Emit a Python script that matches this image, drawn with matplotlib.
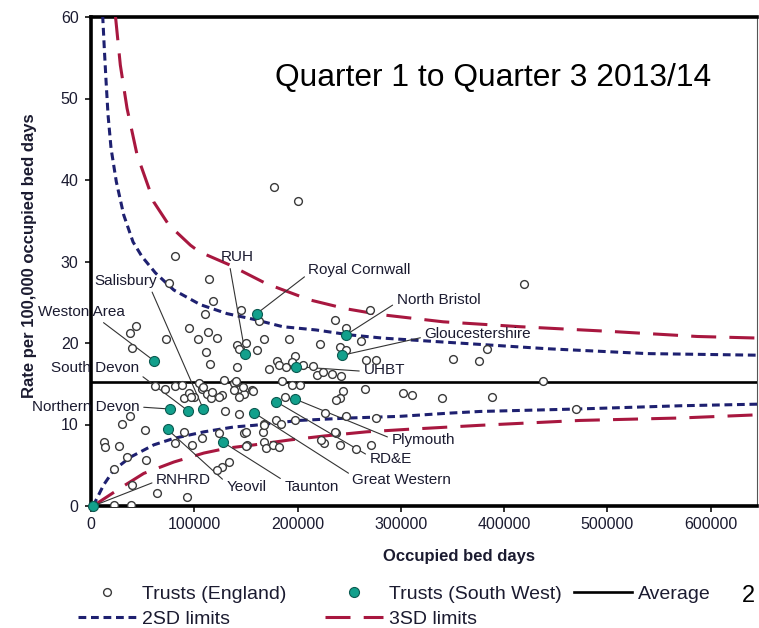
import matplotlib
matplotlib.use("Agg")
import matplotlib.pyplot as plt
from matplotlib.lines import Line2D

plt.rcParams['font.family'] = ['Liberation Sans', 'DejaVu Sans']
plt.rcParams['lines.scale_dashes'] = False

# ---- Trusts (England): occupied bed days vs rate per 100,000 ----
eng_x = [177700, 200000, 419400, 81200, 114600, 76000, 118400, 110000, 145600, 162400,
         44000, 37500, 40100, 73100, 95100, 103200, 112900, 121700, 111300, 115200,
         141100, 150100, 143000, 160500, 168000, 141400, 191300, 198000, 221400, 235900,
         247300, 240800, 246600, 270600, 261800, 266000, 276400, 179900, 172800, 182500,
         214900, 218800, 233600, 242400, 184500, 194800, 202600, 244000, 240800, 265000,
         383500, 350500, 375700, 437900, 302000, 310700, 339800, 388300, 469900, 189000,
         194800, 205100, 225000, 62400, 72100, 80900, 89900, 94800, 99600, 107800,
         112600, 116500, 104500, 128800, 127200, 138500, 144300, 148200, 156300, 129400,
         143400, 37500, 30100, 52700, 12300, 13900, 26900, 35000, 22000, 53700,
         39800, 64100, 93200, 22000, 39100, 89900, 80900, 98100, 107800, 124000,
         127200, 122300, 133700, 148200, 151500, 146900, 138800, 143700, 140500, 117100,
         124300, 96800, 167300, 179300, 184100, 197100, 187400, 166300, 150100, 168000,
         169600, 176000, 182500, 225500, 237500, 240800, 257000, 226200, 246600, 271500,
         276400, 156600, 237500, 235900, 223000, 88000, 108700, 150100, 168000]
eng_y = [39.1, 37.4, 27.2, 30.7, 27.9, 27.4, 25.2, 23.5, 24.0, 22.7,
         22.1, 21.2, 19.4, 20.5, 21.9, 20.5, 21.3, 20.6, 18.9, 17.4,
         19.8, 20.0, 19.3, 19.1, 20.5, 17.0, 20.5, 18.4, 19.9, 22.8,
         21.9, 19.5, 19.2, 24.0, 20.3, 17.9, 17.9, 17.8, 16.8, 17.3,
         17.2, 16.1, 16.2, 15.9, 15.3, 14.8, 14.8, 14.1, 13.2, 14.3,
         19.3, 18.0, 17.8, 15.3, 13.9, 13.6, 13.25, 13.4, 11.9, 17.1,
         17.7, 17.3, 16.4, 14.7, 14.4, 14.7, 13.2, 13.9, 13.4, 14.4,
         13.7, 13.2, 15.1, 15.5, 13.6, 15.1, 14.4, 13.7, 14.2, 11.6,
         11.3, 11.0, 10.1, 9.3, 7.9, 7.2, 7.4, 6.0, 4.5, 5.6,
         2.6, 1.6, 1.1, 0.1, 0.1, 9.1, 7.7, 7.5, 8.3, 9.0,
         4.8, 4.4, 5.4, 8.9, 7.5, 14.6, 14.2, 13.4, 15.3, 14.0,
         13.4, 13.4, 10.1, 10.6, 10.1, 10.6, 13.4, 9.1, 7.4, 7.8,
         7.1, 7.5, 7.2, 7.7, 8.9, 7.5, 7.0, 11.4, 11.0, 7.5,
         10.8, 14.1, 13.0, 9.1, 8.1, 14.8, 14.6, 9.1, 10.0]

# ---- Trusts (South West) ----
sw_names = ["Royal Cornwall", "North Bristol", "Gloucestershire", "UHBT", "RUH",
            "Weston Area", "Salisbury", "South Devon", "Northern Devon", "RNHRD",
            "Yeovil", "Taunton", "Great Western", "Plymouth", "RD&E"]
sw_x = [160500, 247000, 243400, 198400, 149500, 61200, 108700, 93800, 76400, 2000,
        74100, 128200, 158300, 198000, 179300]
sw_y = [23.6, 21.0, 18.5, 17.1, 18.6, 17.8, 11.9, 11.7, 11.9, 0.0,
        9.4, 7.8, 11.4, 13.1, 12.8]

average_rate = 15.25

# ---- control limits ----
sd2_upper_x = [11300, 12900, 14600, 16500, 19400, 24500, 31700, 40700, 49400, 62400,
               80200, 106000, 131900, 157800, 185700, 218000, 250300, 282600, 331100,
               441400, 538500, 647600]
sd2_upper_y = [60.2, 56.1, 52.1, 48.0, 43.9, 39.8, 35.7, 32.4, 30.6, 28.6,
               26.5, 24.7, 23.6, 22.9, 22.0, 21.6, 21.0, 20.6, 20.2,
               19.3, 18.7, 18.5]
sd2_lower_x = [2000, 12300, 22000, 38200, 60800, 80300, 109400, 138500, 158000, 201900,
               250500, 299000, 347600, 376700, 470600, 570900, 647600]
sd2_lower_y = [0.0, 2.6, 4.4, 6.0, 7.5, 8.3, 9.1, 9.7, 9.9, 10.5,
               10.8, 11.0, 11.4, 11.6, 11.9, 12.3, 12.5]
sd3_upper_x = [23600, 28400, 34900, 44600, 60800, 75300, 96300, 104800, 133900, 169500,
               211500, 247000, 279400, 341100, 415500, 506100, 587100, 647600]
sd3_upper_y = [60.2, 54.1, 48.8, 43.1, 37.3, 34.5, 32.0, 31.2, 29.6, 27.3,
               25.3, 24.2, 23.5, 22.6, 22.0, 21.4, 20.8, 20.6]
sd3_lower_x = [2000, 28400, 51100, 80300, 109400, 132000, 158000, 192200, 226600, 266700,
               305500, 376700, 473800, 570900, 647600]
sd3_lower_y = [0.0, 2.2, 4.0, 5.4, 6.5, 7.1, 7.5, 8.1, 8.6, 9.1,
               9.4, 9.9, 10.5, 10.8, 11.2]

x_ticks = [0, 100000, 200000, 300000, 400000, 500000, 600000]
y_ticks = [0, 10, 20, 30, 40, 50, 60]

# label placement: text anchor (data) and leader attachment point on the text box
label_layout = {
    "Royal Cornwall": (210500, 29.0, (0.0, 0.2)),
    "North Bristol": (295900, 25.3, (0.0, 0.3)),
    "Gloucestershire": (323000, 21.1, (0.0, 0.3)),
    "UHBT": (263800, 16.7, (0.0, 0.4)),
    "RUH": (126100, 30.5, (0.25, 0.0)),
    "Weston Area": (-51400, 23.8, (0.7, 0.0)),
    "Salisbury": (2900, 27.6, (0.9, 0.0)),
    "South Devon": (-38800, 16.9, (1.0, 0.1)),
    "Northern Devon": (-57200, 12.15, (1.0, 0.5)),
    "RNHRD": (63000, 3.2, (0.0, 0.4)),
    "Yeovil": (131000, 2.35, (0.0, 0.8)),
    "Taunton": (187200, 2.3, (0.02, 0.9)),
    "Great Western": (253200, 3.2, (0.0, 0.8)),
    "Plymouth": (291000, 8.1, (0.0, 0.6)),
    "RD&E": (269700, 5.75, (0.0, 0.7)),
}

NAVY = "#1e2070"
CRIMSON = "#a8173f"
TEAL = "#12a08c"
TEXT = "#1b1b30"

W, H = 759, 628
fig = plt.figure(figsize=(W / 100, H / 100), dpi=100)
ax = fig.add_axes([91 / W, 1 - 506 / H, (757 - 91) / W, (506 - 17) / H])

ax.set_xlim(0, 645000)
ax.set_ylim(0, 60)

ax.axhline(average_rate, color="black", lw=1.9, zorder=3)
ax.plot(sd2_upper_x, sd2_upper_y, color=NAVY, lw=2.2, dashes=(5.6, 3.4), zorder=3)
ax.plot(sd2_lower_x, sd2_lower_y, color=NAVY, lw=2.2, dashes=(5.6, 3.4), zorder=3)
ax.plot(sd3_upper_x, sd3_upper_y, color=CRIMSON, lw=2.2, dashes=(18, 9.5), zorder=3)
ax.plot(sd3_lower_x, sd3_lower_y, color=CRIMSON, lw=2.2, dashes=(18, 9.5), zorder=3)

ax.plot(eng_x, eng_y, ls="none", marker="o", ms=5.6, mfc="white", mec="#3a3a3a",
        mew=1.0, zorder=5)

for name, x, y in zip(sw_names, sw_x, sw_y):
    tx, ty, rel = label_layout[name]
    ax.annotate(name, xy=(x, y), xytext=(tx, ty), textcoords="data",
                ha="left", va="center", fontsize=11, color=TEXT,
                annotation_clip=False, zorder=4,
                arrowprops=dict(arrowstyle="-", color="#333333", lw=0.8,
                                shrinkA=1, shrinkB=2, relpos=rel))

ax.plot(sw_x, sw_y, ls="none", marker="o", ms=7.2, mfc=TEAL, mec="#0c5a50",
        mew=0.8, zorder=6, clip_on=False)

# axes frame
for side in ("left", "top", "bottom"):
    ax.spines[side].set_linewidth(2.6)
    ax.spines[side].set_color("black")
ax.spines["right"].set_linewidth(0.8)
ax.spines["right"].set_color("#555555")

ax.set_xticks(x_ticks)
ax.set_xticklabels([str(t) for t in x_ticks])
ax.set_yticks(y_ticks)
ax.set_yticklabels([str(t) for t in y_ticks])
ax.tick_params(axis="both", direction="out", length=4, width=1.3, color="#222222",
               labelsize=11.5, labelcolor=TEXT)
ax.tick_params(axis="y", pad=5)
ax.tick_params(axis="x", pad=4)

ax.set_xlabel("Occupied bed days", fontsize=12, fontweight="bold", color=TEXT)
ax.xaxis.set_label_coords((459 - 91) / 666, (506 - 549) / 489)
ax.set_ylabel("Rate per 100,000 occupied bed days", fontsize=12, fontweight="bold",
              color=TEXT)
ax.yaxis.set_label_coords((37 - 91) / 666, (506 - 256) / 489)

fig.text(275 / W, 1 - 86 / H, "Quarter 1 to Quarter 3 2013/14", fontsize=22.9,
         color="black", ha="left", va="baseline")
fig.text(748 / W, 1 - 596 / H, "2", fontsize=17, color="black", ha="center",
         va="center")

# legend, three columns of equal width
eng_handle = Line2D([], [], ls="none", marker="o", ms=5.6, mfc="white", mec="#3a3a3a",
                    mew=1.0)
sw_handle = Line2D([], [], ls="none", marker="o", ms=7.2, mfc=TEAL, mec="#0c5a50",
                   mew=0.8)
avg_handle = Line2D([], [], color="black", lw=1.9)
sd2_handle = Line2D([], [], color=NAVY, lw=2.2, dashes=(5.6, 3.4))
sd3_handle = Line2D([], [], color=CRIMSON, lw=2.2, dashes=(18, 9.5))

columns = [
    (78, [eng_handle, sd2_handle], ["Trusts (England)", "2SD limits"]),
    (325, [sw_handle, sd3_handle], ["Trusts (South West)", "3SD limits"]),
    (574, [avg_handle], ["Average"]),
]
for x0, handles, labels in columns:
    fig.legend(handles, labels, loc="upper left",
               bbox_to_anchor=(x0 / W, 1 - 585 / H), frameon=False,
               fontsize=14, handlelength=3.0, handletextpad=0.3,
               labelspacing=0.38, borderpad=0, borderaxespad=0,
               labelcolor=TEXT)

fig.savefig("out.png", dpi=100)
